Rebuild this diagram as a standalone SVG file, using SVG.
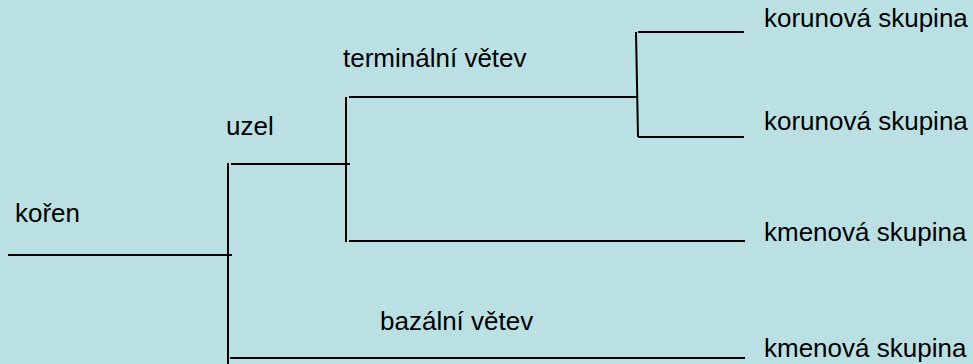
<svg xmlns="http://www.w3.org/2000/svg" width="973" height="364" viewBox="0 0 973 364">
  <style>
    .bg { fill: #BBE0E3; }
    .br { stroke: #000; stroke-width: 2; fill: none; stroke-linecap: butt; }
    .lbl { font-family: "Liberation Sans", Arial, sans-serif; font-size: 26px; fill: #000; }
  </style>
  <rect class="bg" x="0" y="0" width="973" height="364"/>

  <!-- tree branches -->
  <g id="connectors">
    <line class="br" x1="8" y1="255" x2="232" y2="255"/>
    <line class="br" x1="228" y1="163" x2="228" y2="364"/>
    <line class="br" x1="231" y1="164" x2="350" y2="164"/>
    <line class="br" x1="230" y1="358" x2="745" y2="358"/>
    <line class="br" x1="346" y1="97" x2="346" y2="242"/>
    <line class="br" x1="349" y1="97" x2="638" y2="97"/>
    <line class="br" x1="349" y1="241" x2="745" y2="241"/>
    <line class="br" x1="636" y1="32" x2="638" y2="137"/>
    <line class="br" x1="638" y1="32" x2="744" y2="32"/>
    <line class="br" x1="638" y1="137" x2="744" y2="137"/>
  </g>

  <g id="root"><text class="lbl" x="15" y="222">kořen</text></g>
  <g id="node"><text class="lbl" x="226" y="135">uzel</text></g>
  <g id="terminal-branch"><text class="lbl" x="343" y="67">terminální větev</text></g>
  <g id="basal-branch"><text class="lbl" x="380" y="330">bazální větev</text></g>
  <g id="crown-1"><text class="lbl" x="764" y="27">korunová skupina</text></g>
  <g id="crown-2"><text class="lbl" x="764" y="130">korunová skupina</text></g>
  <g id="stem-1"><text class="lbl" x="764" y="241">kmenová skupina</text></g>
  <g id="stem-2"><text class="lbl" x="764" y="357">kmenová skupina</text></g>
</svg>
